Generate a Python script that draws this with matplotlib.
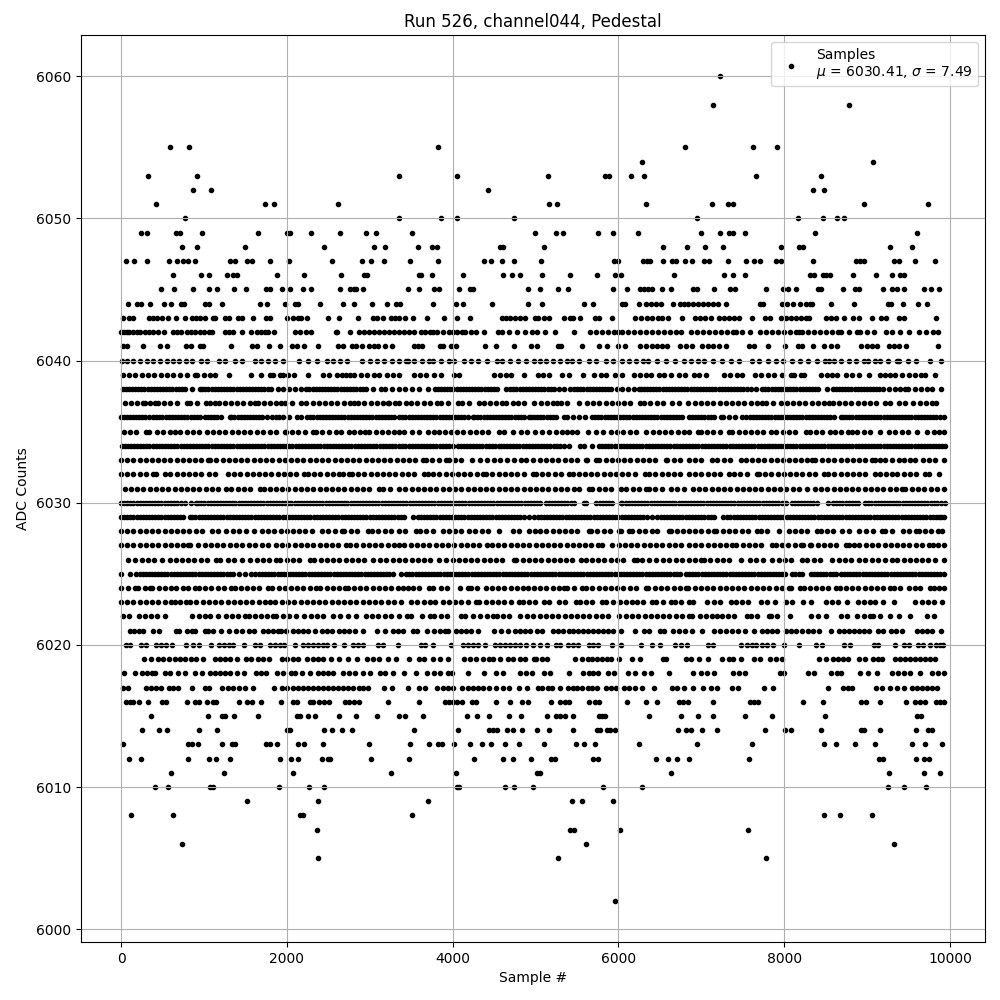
import matplotlib
matplotlib.use('Agg')
import matplotlib.pyplot as plt

# Sample numbers, one list per ADC level
s_6060 = [7229]
s_6058 = [7145, 8783]
s_6055 = [590, 819, 3819, 6807, 7627, 7916]
s_6054 = [6289, 9072]
s_6053 = [325, 916, 3349, 4048, 5145, 5843, 5888, 6157, 6313, 7655, 8438]
s_6052 = [867, 1084, 4422, 8349, 8482]
s_6051 = [422, 1735, 1843, 2614, 5157, 5265, 6337, 7133, 7325, 7386, 8964, 9735]
s_6050 = [771, 3349, 3855, 4048, 4735, 6952, 8169, 8470, 8639, 8723]
s_6049 = [241, 317, 663, 715, 976, 1651, 2000, 2040, 2289, 2639, 2952, 3072, 3506, 4988, 5241, 5337, 5759, 5940,
          6241, 7000, 7229, 7333, 7386, 7530, 8373, 9602]
s_6048 = [735, 916, 1494, 2446, 3048, 3181, 3578, 3747, 3807, 4570, 4610, 5108, 6542, 6831, 7048, 7265, 7964, 8181,
          8229, 9277, 9542]
s_6047 = [60, 157, 317, 578, 675, 747, 807, 892, 1313, 1373, 1518, 1582, 1791, 2024, 2542, 2904, 3016, 3169, 3482,
          3819, 4373, 4458, 4598, 4735, 5072, 5952, 6000, 6301, 6349, 6386, 6542, 6651, 6691, 6807, 6888, 7036, 7092,
          7325, 7542, 7639, 7711, 7904, 7960, 8349, 8867, 8916, 8964, 9325, 9382, 9578, 9819]
s_6046 = [627, 964, 1060, 1277, 1349, 1402, 1880, 2205, 2651, 2928, 2964, 3590, 3614, 3747, 4120, 4602, 4711, 4807,
          5084, 5410, 5747, 5964, 6036, 6675, 7277, 7386, 7530, 8313, 8361, 8470, 8506, 8550, 8831, 9108, 9301, 9398,
          9446]
s_6045 = [482, 639, 867, 1060, 1157, 1361, 1506, 1747, 1791, 1940, 2036, 2193, 2289, 2639, 2759, 2807, 2831, 2916,
          3458, 3590, 3771, 3831, 4072, 4205, 4241, 4904, 5048, 5277, 5386, 5940, 6108, 6265, 6313, 6361, 6410, 6530,
          6639, 6904, 6952, 7157, 7349, 7410, 7783, 7988, 8048, 8145, 8410, 8446, 8711, 8855, 8904, 9193, 9301, 9361,
          9446, 9687, 9771, 9867]
s_6044 = [84, 193, 241, 349, 518, 602, 723, 759, 1012, 1060, 1217, 1675, 1759, 1976, 2096, 2133, 2398, 2675, 2807,
          3024, 3205, 3313, 3361, 3759, 4036, 4120, 4470, 4904, 5084, 5590, 5699, 6048, 6084, 6253, 6337, 6398, 6458,
          6518, 6663, 6747, 6795, 6843, 6904, 6964, 7024, 7084, 7145, 7205, 7301, 7711, 7747, 7976, 8036, 8108, 8193,
          8265, 8313, 8337, 8562, 8843, 9253, 9289, 9434, 9614, 9723]
s_6043 = [24, 96, 145, 337, 386, 434, 494, 566, 663, 771, 855, 904, 952, 1012, 1108, 1133, 1253, 1301, 1410, 1458,
          1590, 1747, 1795, 2000, 2072, 2133, 2169, 2241, 2494, 2627, 2855, 3036, 3084, 3157, 3253, 3301, 3349, 3422,
          3518, 3687, 3892, 4048, 4205, 4590, 4639, 4687, 4747, 4807, 4867, 4988, 5024, 5108, 5157, 5349, 5410, 5458,
          5542, 5723, 5771, 5928, 6205, 6277, 6349, 6410, 6482, 6530, 6602, 6771, 6928, 6988, 7048, 7120, 7217, 7277,
          7337, 7398, 7458, 7614, 7771, 7831, 7964, 8024, 8084, 8145, 8205, 8265, 8301, 8506, 8566, 8627, 8723, 8831,
          8904, 9060, 9169, 9229, 9386, 9446, 9831]
s_6042 = [4, 40, 70, 100, 140, 190, 225, 289, 340, 380, 446, 522, 627, 680, 727, 790, 840, 890, 950, 1005, 1060, 1100,
          1257, 1305, 1349, 1458, 1566, 1639, 1690, 1740, 1771, 1843, 2096, 2160, 2233, 2293, 2590, 2610, 2763, 2867,
          2930, 2990, 3048, 3108, 3169, 3229, 3289, 3349, 3410, 3470, 3530, 3614, 3671, 3723, 3759, 3815, 3880, 3960,
          4000, 4048, 4110, 4145, 4225, 4285, 4382, 4542, 4600, 4675, 4771, 4870, 4960, 5020, 5120, 5229, 5466, 5663,
          5735, 5807, 5880, 5952, 5992, 6048, 6120, 6193, 6265, 6337, 6410, 6482, 6554, 6627, 6699, 6751, 6876, 6952,
          7024, 7097, 7169, 7241, 7313, 7386, 7420, 7490, 7590, 7703, 7775, 7847, 7920, 7992, 8064, 8137, 8177, 8217,
          8289, 8361, 8433, 8506, 8578, 8650, 8690, 8779, 8880, 8920, 9000, 9080, 9229, 9301, 9402, 9510, 9622, 9711,
          9791, 9855]
s_6041 = [24, 72, 265, 466, 554, 783, 843, 952, 988, 1325, 1578, 1639, 1783, 1916, 2060, 2120, 2205, 2373, 2614, 2675,
          2783, 2831, 2904, 2988, 3048, 3096, 3181, 3265, 3530, 3578, 3627, 3843, 3880, 3976, 4036, 4386, 4518, 4735,
          4940, 5012, 5277, 5313, 5566, 5771, 5867, 6000, 6076, 6265, 6337, 6410, 6470, 6530, 6590, 6747, 6819, 6892,
          7012, 7084, 7145, 7217, 7301, 7578, 7639, 7807, 8012, 8169, 8217, 8349, 8482, 8566, 8639, 8928, 9000, 9060,
          9120, 9265, 9325, 9386, 9470, 9855]
s_6040 = [10, 75, 150, 230, 310, 390, 470, 550, 625, 700, 780, 860, 960, 1040, 1180, 1260, 1370, 1460, 1610, 1690,
          1770, 1860, 1950, 2150, 2260, 2360, 2490, 2560, 2640, 2730, 2910, 3000, 3090, 3170, 3270, 3350, 3440, 3460,
          3540, 3630, 3710, 3760, 3860, 3960, 4020, 4140, 4220, 4310, 4420, 4540, 4600, 4690, 4790, 4880, 4980, 5050,
          5130, 5210, 5300, 5380, 5440, 5530, 5640, 5730, 5850, 5940, 6040, 6130, 6210, 6300, 6360, 6470, 6570, 6680,
          6790, 6880, 6964, 7030, 7140, 7250, 7360, 7460, 7610, 7700, 7800, 7900, 7990, 8090, 8190, 8290, 8390, 8490,
          8540, 8600, 8690, 8780, 8870, 8960, 9010, 9090, 9150, 9250, 9360, 9390, 9490, 9590, 9763, 9888]
s_6039 = [24, 100, 170, 250, 320, 400, 480, 550, 630, 710, 800, 888, 915, 1000, 1070, 1128, 1301, 1570, 1690, 1791,
          1839, 1912, 1952, 2020, 2092, 2253, 2442, 2514, 2602, 2667, 2715, 2763, 2815, 2890, 2970, 3056, 3116, 3205,
          3280, 3357, 3538, 3610, 3679, 3779, 3860, 4020, 4080, 4502, 4574, 4643, 4703, 4855, 5024, 5090, 5157, 5325,
          5398, 5578, 5707, 5787, 5855, 5960, 6048, 6189, 6260, 6329, 6398, 6490, 6550, 6630, 6731, 6800, 6912, 6972,
          7052, 7273, 7350, 7430, 7494, 7647, 7720, 7800, 7876, 7976, 8076, 8116, 8197, 8237, 8438, 8518, 8580, 8639,
          8751, 8820, 8900, 9020, 9153, 9220, 9281, 9341, 9420, 9500, 9580, 9650, 9703, 9815]
s_6038 = [24, 95, 170, 245, 320, 395, 470, 545, 620, 695, 770, 850, 947, 980, 1055, 1130, 1205, 1280, 1355, 1430, 1505,
          1580, 1655, 1730, 1805, 1892, 1952, 2030, 2100, 2173, 2233, 2310, 2385, 2460, 2535, 2610, 2685, 2760, 2835,
          2884, 2916, 2956, 3040, 3136, 3189, 3270, 3357, 3430, 3510, 3590, 3699, 3787, 3860, 3935, 4010, 4085, 4160,
          4235, 4310, 4385, 4460, 4535, 4643, 4691, 4770, 4845, 4920, 4995, 5070, 5145, 5220, 5285, 5345, 5418, 5466,
          5540, 5615, 5690, 5765, 5840, 5915, 5988, 6048, 6120, 6190, 6249, 6269, 6345, 6420, 6495, 6570, 6645, 6720,
          6795, 6870, 6945, 7020, 7095, 7170, 7245, 7320, 7395, 7470, 7545, 7594, 7663, 7735, 7810, 7885, 7960, 8035,
          8110, 8185, 8260, 8335, 8410, 8518, 8586, 8660, 8735, 8810, 8885, 8960, 9035, 9110, 9189, 9261, 9340, 9400,
          9462, 9494, 9574, 9650, 9720, 9783, 9892,
          60, 132, 208, 283, 358, 433, 508, 583, 658, 733, 1018, 1093, 1168, 1243, 1318, 1393, 1468, 1543, 1618, 1693,
          1768, 2272, 2348, 2423, 2498, 2573, 2648, 2723, 2798, 3823, 3898, 3973, 4048, 4123, 4198, 4273, 4348, 4423,
          4498, 4732, 4808, 4883, 4958, 5033, 5108, 5183, 5503, 5578, 5653, 5728, 5803, 5878, 6308, 6383, 6458, 6533,
          6608, 6683, 6758, 6833, 6908, 6983, 7058, 7133, 7208, 7283, 7358, 7433, 7508, 7773, 7848, 7923, 7998, 8073,
          8148, 8223, 8298, 8373, 8623, 8698, 8773, 8848, 8923, 8998, 9073, 9148]
s_6037 = [44, 120, 190, 265, 285, 350, 406, 446, 520, 595, 670, 795, 835, 920, 1028, 1068, 1130, 1181, 1249, 1325,
          1400, 1475, 1550, 1610, 1651, 1725, 1800, 1875, 1932, 1972, 2060, 2173, 2233, 2310, 2385, 2460, 2535, 2610,
          2685, 2760, 2815, 2855, 2935, 3010, 3085, 3160, 3217, 3237, 3310, 3357, 3438, 3498, 3575, 3650, 3725, 3811,
          3859, 3950, 4060, 4112, 4200, 4321, 4381, 4450, 4522, 4590, 4643, 4723, 4783, 4855, 4984, 5060, 5135, 5210,
          5265, 5305, 5385, 5526, 5618, 5695, 5770, 5845, 5920, 5995, 6070, 6145, 6257, 6309, 6385, 6460, 6535, 6651,
          6731, 6843, 6920, 6995, 7070, 7145, 7220, 7295, 7370, 7445, 7520, 7595, 7670, 7727, 7775, 7863, 7956, 8030,
          8105, 8180, 8255, 8330, 8405, 8480, 8546, 8590, 8659, 8735, 8810, 8885, 8960, 9035, 9110, 9221, 9281, 9382,
          9454, 9554, 9634, 9710, 9785, 9831]
s_6036 = [0, 70, 145, 220, 295, 386, 426, 500, 575, 650, 725, 800, 875, 950, 1008, 1048, 1125, 1200, 1309, 1329, 1405,
          1480, 1555, 1630, 1705, 1823, 1871, 1950, 2025, 2120, 2173, 2245, 2320, 2395, 2470, 2545, 2620, 2695, 2770,
          2845, 2920, 2995, 3070, 3145, 3220, 3295, 3357, 3430, 3505, 3580, 3655, 3730, 3805, 3880, 3955, 4030, 4105,
          4180, 4241, 4261, 4335, 4410, 4485, 4560, 4635, 4710, 4785, 4860, 4924, 4944, 5020, 5095, 5170, 5245, 5345,
          5385, 5446, 5520, 5595, 5687, 5719, 5795, 5870, 5945, 6020, 6095, 6170, 6245, 6320, 6395, 6470, 6545, 6620,
          6695, 6770, 6851, 6925, 7000, 7075, 7150, 7233, 7261, 7335, 7410, 7494, 7542, 7620, 7695, 7770, 7845, 7920,
          7995, 8070, 8145, 8220, 8295, 8370, 8445, 8520, 8595, 8679, 8711, 8785, 8860, 8935, 9010, 9085, 9160, 9235,
          9310, 9385, 9460, 9535, 9610, 9685, 9760, 9835, 9924,
          35, 108, 183, 258, 340, 463, 538, 613, 688, 763, 838, 913, 1087, 1163, 1367, 1443, 1518, 1593, 1668, 1763,
          1910, 2283, 2358, 2433, 2508, 2583, 2658, 2733, 2808, 2883, 2958, 3033, 3108, 3183, 3258, 3393, 3468, 3543,
          3618, 3693, 3768, 3843, 3918, 3993, 4068, 4143, 4298, 4373, 4448, 4523, 4598, 4673, 4748, 4823, 4983, 5058,
          5133, 5208, 5758, 5833, 5908, 5983, 6058, 6133, 6208, 6283, 6358, 6433, 6508, 6583, 6658, 6733, 6888, 6963,
          7038, 7113, 7583, 7658, 7733, 7808, 7883, 7958, 8033, 8108, 8183, 8258, 8333, 8408, 8483, 8558, 8748, 8823,
          8898, 8973, 9048, 9123, 9198, 9273, 9348, 9423, 9498, 9573, 9648, 9723, 9798, 9880]
s_6035 = [32, 105, 180, 297, 337, 434, 510, 585, 647, 707, 790, 868, 940, 1036, 1110, 1185, 1260, 1335, 1410, 1485,
          1560, 1635, 1711, 1791, 1870, 1972, 1992, 2065, 2140, 2215, 2313, 2353, 2430, 2505, 2594, 2655, 2755, 2815,
          2880, 2948, 2996, 3070, 3145, 3220, 3295, 3357, 3418, 3510, 3598, 3699, 3779, 3831, 3905, 3980, 4055, 4130,
          4205, 4280, 4355, 4430, 4562, 4622, 4723, 4823, 4900, 4990, 5084, 5157, 5245, 5325, 5385, 5438, 5506, 5634,
          5735, 5819, 5908, 5985, 6060, 6135, 6210, 6329, 6418, 6490, 6565, 6640, 6715, 6790, 6851, 6964, 6992, 7070,
          7145, 7220, 7333, 7373, 7450, 7525, 7600, 7675, 7750, 7835, 7904, 7980, 8055, 8130, 8257, 8305, 8385, 8460,
          8558, 8610, 8690, 8765, 8819, 8880, 8960, 9035, 9161, 9261, 9340, 9415, 9490, 9602, 9723, 9803, 9870, 9932]
s_6034 = [8, 80, 155, 230, 305, 380, 455, 530, 605, 680, 755, 830, 905, 980, 1055, 1130, 1205, 1280, 1355, 1430, 1505,
          1580, 1655, 1730, 1805, 1880, 1955, 2030, 2105, 2180, 2255, 2330, 2405, 2480, 2555, 2630, 2705, 2780, 2855,
          2930, 3005, 3080, 3155, 3230, 3305, 3357, 3430, 3505, 3580, 3655, 3730, 3805, 3880, 3952, 3999, 4060, 4135,
          4210, 4285, 4360, 4435, 4510, 4562, 4582, 4655, 4730, 4805, 4880, 4955, 5030, 5105, 5180, 5255, 5345, 5406,
          5534, 5586, 5687, 5767, 5840, 5915, 5990, 6065, 6140, 6215, 6290, 6365, 6440, 6515, 6590, 6665, 6740, 6815,
          6890, 6965, 7040, 7115, 7190, 7265, 7340, 7415, 7490, 7565, 7640, 7715, 7790, 7847, 7888, 7960, 8035, 8110,
          8185, 8260, 8335, 8410, 8485, 8560, 8635, 8710, 8785, 8860, 8935, 9010, 9085, 9160, 9235, 9310, 9385, 9460,
          9535, 9610, 9685, 9760, 9835, 9900, 9944,
          43, 118, 193, 268, 343, 418, 493, 568, 643, 718, 793, 868, 943, 1018, 1093, 1168, 1243, 1318, 1393, 1468,
          1543, 1618, 1693, 1768, 1843, 1918, 1993, 2068, 2143, 2218, 2293, 2368, 2443, 2518, 2593, 2668, 2743, 2818,
          2893, 2968, 3043, 3118, 3193, 3268, 3393, 3468, 3543, 3618, 3693, 3768, 3843, 3918, 4098, 4173, 4248, 4323,
          4398, 4473, 4618, 4693, 4768, 4843, 4918, 4993, 5068, 5143, 5218, 5300, 5803, 5878, 5953, 6028, 6103, 6178,
          6253, 6328, 6403, 6478, 6553, 6628, 6703, 6778, 6853, 6928, 7003, 7078, 7153, 7228, 7303, 7378, 7453, 7528,
          7603, 7678, 7753, 7820, 7923, 7998, 8073, 8148, 8223, 8298, 8373, 8448, 8523, 8598, 8673, 8748, 8823, 8898,
          8973, 9048, 9123, 9198, 9273, 9348, 9423, 9498, 9573, 9648, 9723, 9798, 9868]
s_6033 = [0, 75, 150, 233, 297, 370, 445, 520, 595, 670, 745, 820, 895, 970, 1048, 1076, 1150, 1225, 1300, 1375, 1450,
          1525, 1600, 1675, 1750, 1825, 1900, 1975, 2050, 2125, 2200, 2275, 2350, 2425, 2500, 2575, 2650, 2725, 2800,
          2875, 2950, 3025, 3100, 3175, 3250, 3325, 3400, 3475, 3550, 3639, 3679, 3755, 3830, 3920, 3952, 4030, 4105,
          4229, 4333, 4420, 4502, 4570, 4650, 4740, 4823, 4884, 4972, 5050, 5125, 5200, 5275, 5350, 5425, 5500, 5606,
          5626, 5727, 5767, 5845, 5920, 5995, 6070, 6145, 6220, 6295, 6370, 6445, 6570, 6590, 6665, 6740, 6851, 6925,
          7000, 7124, 7193, 7270, 7345, 7474, 7534, 7610, 7685, 7760, 7835, 7910, 7985, 8056, 8128, 8205, 8280, 8337,
          8377, 8455, 8530, 8605, 8680, 8755, 8830, 8905, 8980, 9060, 9100, 9160, 9221, 9301, 9389, 9442, 9515, 9582,
          9671, 9745, 9820, 9924]
s_6032 = [0, 75, 150, 225, 300, 386, 418, 526, 594, 670, 745, 820, 895, 968, 1060, 1128, 1289, 1365, 1440, 1515, 1590,
          1665, 1740, 1815, 1890, 1965, 2040, 2115, 2213, 2253, 2330, 2405, 2480, 2555, 2635, 2675, 2755, 2783, 2860,
          2935, 3010, 3085, 3160, 3235, 3310, 3385, 3460, 3535, 3659, 3707, 3767, 3840, 3915, 3990, 4065, 4140, 4215,
          4290, 4369, 4402, 4480, 4555, 4630, 4705, 4780, 4855, 4964, 5004, 5080, 5155, 5230, 5305, 5406, 5446, 5520,
          5595, 5670, 5745, 5820, 5895, 5970, 6045, 6120, 6195, 6321, 6369, 6445, 6520, 6595, 6670, 6745, 6851, 6925,
          7000, 7075, 7150, 7225, 7333, 7394, 7470, 7545, 7675, 7695, 7770, 7845, 7920, 7995, 8070, 8145, 8220, 8295,
          8370, 8478, 8530, 8605, 8680, 8755, 8830, 8905, 8980, 9100, 9161, 9230, 9301, 9361, 9440, 9515, 9590, 9703,
          9751, 9863]
s_6031 = [44, 120, 195, 270, 345, 420, 495, 570, 645, 720, 795, 870, 945, 1020, 1095, 1170, 1269, 1329, 1405, 1480,
          1555, 1671, 1719, 1795, 1870, 1945, 2020, 2095, 2170, 2245, 2320, 2395, 2470, 2545, 2620, 2695, 2770, 2845,
          2920, 2995, 3116, 3165, 3240, 3357, 3430, 3505, 3580, 3655, 3730, 3805, 3880, 3955, 4030, 4105, 4180, 4255,
          4330, 4405, 4480, 4555, 4630, 4705, 4780, 4855, 4930, 5005, 5080, 5155, 5230, 5305, 5380, 5466, 5526, 5647,
          5687, 5765, 5840, 5915, 6028, 6096, 6175, 6250, 6329, 6369, 6445, 6520, 6630, 6711, 6791, 6900, 6975, 7050,
          7125, 7200, 7275, 7350, 7425, 7500, 7575, 7650, 7725, 7800, 7875, 7950, 8025, 8100, 8175, 8277, 8369, 8445,
          8520, 8595, 8670, 8745, 8820, 8895, 8970, 9045, 9120, 9195, 9270, 9345, 9422, 9462, 9540, 9615, 9690, 9765,
          9840, 9924]
s_6030 = [0, 75, 150, 225, 300, 375, 450, 525, 600, 675, 727, 767, 840, 908, 932, 1005, 1080, 1155, 1230, 1305, 1380,
          1455, 1530, 1605, 1680, 1755, 1830, 1905, 1980, 2055, 2130, 2205, 2280, 2355, 2430, 2505, 2580, 2655, 2730,
          2805, 2880, 2955, 3030, 3105, 3180, 3255, 3330, 3405, 3480, 3555, 3630, 3705, 3780, 3855, 3930, 4005, 4080,
          4155, 4230, 4305, 4380, 4455, 4530, 4605, 4680, 4755, 4830, 4905, 4980, 5055, 5125, 5157, 5235, 5310, 5385,
          5460, 5586, 5606, 5727, 5775, 5850, 5925, 6028, 6048, 6125, 6200, 6275, 6350, 6425, 6500, 6575, 6650, 6725,
          6800, 6875, 6950, 7025, 7100, 7175, 7250, 7325, 7400, 7475, 7550, 7625, 7700, 7775, 7850, 7925, 8024, 8088,
          8165, 8240, 8315, 8390, 8530, 8586, 8665, 8740, 8815, 8890, 8980, 9012, 9090, 9165, 9240, 9315, 9390, 9465,
          9540, 9615, 9690, 9765, 9840, 9944,
          38, 113, 188, 263, 338, 413, 488, 563, 638, 970, 1043, 1118, 1193, 1268, 1343, 1418, 1493, 1568, 1643, 1718,
          1793, 1868, 1943, 2018, 2093, 2168, 2243, 2318, 2393, 2468, 2543, 2618, 2693, 2768, 2843, 2918, 2993, 3068,
          3143, 3218, 3293, 3368, 3443, 3518, 3593, 3668, 3743, 3818, 3893, 3968, 4043, 4118, 4193, 4268, 4343, 4418,
          4493, 4568, 4643, 4718, 4793, 4868, 4943, 5018, 5195, 5273, 5348, 5423, 5813, 5888, 6088, 6163, 6238, 6313,
          6388, 6463, 6538, 6613, 6688, 6763, 6838, 6913, 6988, 7063, 7138, 7213, 7288, 7363, 7438, 7513, 7588, 7663,
          7738, 7813, 7888, 7975, 8128, 8203, 8278, 8353, 8625, 8703, 8778, 8853, 9050, 9128, 9203, 9278, 9353, 9428,
          9503, 9578, 9653, 9728, 9803, 9890]
s_6029 = [0, 75, 150, 225, 300, 375, 450, 525, 600, 675, 750, 827, 859, 935, 1010, 1085, 1160, 1235, 1310, 1385, 1460,
          1535, 1610, 1685, 1760, 1835, 1910, 1985, 2060, 2135, 2210, 2285, 2360, 2435, 2510, 2585, 2660, 2735, 2810,
          2885, 2960, 3035, 3110, 3185, 3260, 3335, 3410, 3526, 3578, 3655, 3730, 3805, 3880, 3955, 4030, 4105, 4180,
          4255, 4330, 4405, 4480, 4555, 4630, 4705, 4780, 4855, 4984, 5024, 5100, 5175, 5250, 5325, 5400, 5475, 5550,
          5625, 5700, 5775, 5850, 5925, 6000, 6075, 6150, 6225, 6300, 6409, 6470, 6545, 6620, 6695, 6770, 6851, 6925,
          7000, 7075, 7150, 7261, 7313, 7390, 7465, 7540, 7615, 7690, 7765, 7840, 7915, 7990, 8065, 8140, 8215, 8290,
          8365, 8440, 8515, 8590, 8665, 8740, 8815, 8890, 8965, 9040, 9115, 9190, 9265, 9340, 9415, 9490, 9565, 9640,
          9715, 9790, 9865, 9924,
          38, 113, 188, 263, 338, 413, 488, 563, 638, 713, 898, 973, 1048, 1123, 1198, 1273, 1348, 1423, 1498, 1573,
          1648, 1723, 1798, 1873, 1948, 2023, 2098, 2173, 2248, 2323, 2398, 2473, 2548, 2623, 2698, 2773, 2848, 2923,
          2998, 3073, 3148, 3223, 3298, 3373, 3618, 3693, 3768, 3843, 3918, 3993, 4068, 4143, 4218, 4293, 4368, 4443,
          4518, 4593, 4668, 4743, 4818, 4920, 5063, 5138, 5213, 5288, 5363, 5438, 5513, 5588, 5663, 5738, 5813, 5888,
          5963, 6038, 6113, 6188, 6263, 6350, 6508, 6583, 6658, 6733, 6810, 6888, 6963, 7038, 7113, 7350, 7428, 7503,
          7578, 7653, 7728, 7803, 7878, 7953, 8028, 8103, 8178, 8253, 8328, 8403, 8478, 8553, 8628, 8703, 8778, 8853,
          8928, 9003, 9078, 9153, 9228, 9303, 9378, 9453, 9528, 9603, 9678, 9753, 9828, 9895]
s_6028 = [0, 75, 150, 225, 300, 375, 450, 525, 600, 675, 750, 825, 900, 975, 1100, 1168, 1269, 1345, 1420, 1510, 1602,
          1703, 1771, 1850, 1925, 2000, 2075, 2150, 2225, 2300, 2426, 2494, 2580, 2667, 2695, 2775, 2850, 2976, 3028,
          3105, 3180, 3255, 3357, 3430, 3558, 3606, 3679, 3767, 3880, 3955, 4030, 4105, 4201, 4273, 4350, 4425, 4562,
          4723, 4800, 4924, 4992, 5052, 5130, 5205, 5280, 5355, 5430, 5505, 5647, 5667, 5745, 5820, 5895, 6008, 6028,
          6129, 6169, 6245, 6320, 6409, 6470, 6610, 6630, 6705, 6780, 6851, 6925, 7000, 7075, 7153, 7181, 7260, 7335,
          7410, 7485, 7560, 7675, 7723, 7787, 7936, 8056, 8130, 8205, 8280, 8398, 8438, 8515, 8590, 8699, 8787, 8900,
          8992, 9070, 9181, 9221, 9300, 9430, 9502, 9590, 9622, 9700, 9775, 9850, 9904]
s_6027 = [0, 75, 150, 225, 300, 375, 450, 525, 600, 675, 750, 807, 827, 928, 1008, 1085, 1160, 1235, 1310, 1385, 1462,
          1542, 1620, 1695, 1770, 1871, 1944, 2020, 2095, 2170, 2245, 2320, 2395, 2470, 2545, 2620, 2715, 2763, 2840,
          2915, 2990, 3065, 3140, 3215, 3290, 3357, 3418, 3495, 3570, 3645, 3720, 3795, 3870, 3945, 4020, 4095, 4170,
          4245, 4320, 4410, 4474, 4550, 4625, 4700, 4775, 4850, 4925, 5000, 5075, 5150, 5225, 5300, 5375, 5450, 5525,
          5600, 5675, 5750, 5807, 5928, 6005, 6080, 6155, 6230, 6305, 6380, 6455, 6530, 6605, 6680, 6755, 6851, 6925,
          7000, 7075, 7150, 7225, 7293, 7373, 7422, 7500, 7575, 7650, 7725, 7855, 7896, 7975, 8050, 8125, 8197, 8225,
          8305, 8329, 8405, 8480, 8555, 8630, 8751, 8779, 8839, 8908, 8985, 9060, 9135, 9210, 9285, 9360, 9435, 9510,
          9585, 9660, 9743, 9791, 9860, 9924]
s_6026 = [84, 173, 250, 325, 400, 494, 586, 660, 735, 810, 885, 960, 1035, 1149, 1197, 1289, 1365, 1462, 1558, 1635,
          1710, 1785, 1871, 1920, 2000, 2075, 2150, 2281, 2333, 2410, 2485, 2560, 2635, 2710, 2785, 2860, 2935, 3044,
          3124, 3200, 3275, 3357, 3430, 3505, 3580, 3655, 3730, 3839, 3920, 4000, 4075, 4150, 4225, 4300, 4375, 4450,
          4525, 4600, 4735, 4763, 4843, 4916, 4995, 5070, 5145, 5220, 5295, 5370, 5445, 5546, 5614, 5679, 5755, 5830,
          5905, 5980, 6055, 6189, 6229, 6289, 6370, 6450, 6538, 6610, 6690, 6765, 6851, 6920, 6992, 7032, 7110, 7185,
          7260, 7335, 7474, 7586, 7663, 7747, 7855, 7935, 8010, 8085, 8217, 8277, 8355, 8430, 8578, 8659, 8735, 8810,
          8900, 8980, 9060, 9135, 9210, 9301, 9361, 9440, 9515, 9590, 9665, 9740, 9815, 9924]
s_6025 = [0, 104, 185, 260, 335, 410, 485, 560, 635, 710, 785, 860, 935, 1010, 1085, 1160, 1235, 1309, 1349, 1425,
          1500, 1570, 1622, 1700, 1775, 1850, 1925, 2000, 2075, 2150, 2225, 2300, 2375, 2450, 2525, 2600, 2675, 2750,
          2825, 2900, 2975, 3050, 3125, 3200, 3275, 3378, 3438, 3515, 3590, 3665, 3740, 3815, 3890, 3965, 4040, 4115,
          4190, 4265, 4340, 4415, 4490, 4565, 4640, 4715, 4790, 4865, 4940, 5015, 5090, 5165, 5240, 5315, 5390, 5465,
          5540, 5615, 5690, 5765, 5840, 5915, 5990, 6065, 6140, 6215, 6290, 6365, 6440, 6515, 6590, 6665, 6740, 6811,
          6890, 6965, 7040, 7115, 7190, 7265, 7340, 7415, 7490, 7565, 7640, 7715, 7790, 7865, 7940, 8015, 8096, 8136,
          8215, 8317, 8357, 8435, 8510, 8585, 8679, 8719, 8795, 8870, 8945, 9020, 9095, 9170, 9245, 9320, 9395, 9470,
          9545, 9620, 9695, 9770, 9845, 9924,
          223, 298, 373, 448, 523, 598, 673, 748, 823, 898, 973, 1048, 1123, 1198, 1273, 1660, 1738, 1813, 1888, 1963,
          2038, 2113, 2188, 2263, 2338, 2413, 2488, 2563, 2638, 2713, 2788, 2863, 2938, 3013, 3088, 3163, 3238, 3478,
          3553, 3628, 3703, 3778, 3853, 3928, 4003, 4078, 4153, 4228, 4303, 4378, 4453, 4528, 4603, 4678, 4753, 4828,
          4903, 4978, 5053, 5128, 5203, 5278, 5353, 5428, 5503, 5578, 5653, 5728, 5803, 5878, 5953, 6028, 6103, 6178,
          6253, 6328, 6403, 6478, 6553, 6628, 6703, 6850, 6928, 7003, 7078, 7153, 7228, 7303, 7378, 7453, 7528, 7603,
          7678, 7753, 7828, 7903, 7978, 8175, 8398, 8473, 8548, 8630, 8758, 8833, 8908, 8983, 9058, 9133, 9208, 9283,
          9358, 9433, 9508, 9583, 9658, 9733, 9808, 9885]
s_6024 = [0, 85, 165, 205, 285, 345, 378, 455, 530, 606, 659, 747, 807, 888, 940, 1015, 1090, 1165, 1240, 1329, 1369,
          1445, 1520, 1595, 1670, 1771, 1823, 1900, 1975, 2050, 2125, 2200, 2275, 2353, 2402, 2480, 2555, 2630, 2707,
          2735, 2810, 2885, 2960, 3035, 3110, 3185, 3260, 3335, 3406, 3458, 3526, 3600, 3711, 3767, 3860, 3928, 4088,
          4181, 4221, 4300, 4402, 4474, 4550, 4625, 4700, 4775, 4843, 4904, 4980, 5055, 5130, 5205, 5280, 5345, 5385,
          5470, 5566, 5606, 5685, 5760, 5835, 5910, 5985, 6060, 6135, 6210, 6329, 6361, 6440, 6515, 6590, 6665, 6740,
          6811, 6843, 6920, 6995, 7070, 7145, 7220, 7295, 7370, 7445, 7520, 7595, 7670, 7745, 7820, 7895, 7970, 8056,
          8076, 8185, 8237, 8310, 8385, 8450, 8530, 8619, 8667, 8745, 8820, 8895, 8970, 9045, 9120, 9195, 9281, 9321,
          9400, 9502, 9574, 9642, 9763, 9803, 9870, 9924]
s_6023 = [0, 75, 150, 225, 300, 375, 450, 525, 600, 647, 707, 779, 835, 910, 985, 1060, 1135, 1210, 1285, 1360, 1435,
          1510, 1585, 1660, 1735, 1799, 1863, 1940, 2015, 2090, 2165, 2240, 2315, 2390, 2465, 2540, 2615, 2690, 2765,
          2840, 2915, 2990, 3065, 3140, 3215, 3290, 3378, 3498, 3575, 3650, 3727, 3791, 3880, 3955, 4030, 4105, 4180,
          4281, 4321, 4400, 4475, 4550, 4625, 4700, 4803, 4843, 4920, 4995, 5104, 5157, 5285, 5360, 5486, 5534, 5610,
          5685, 5807, 5855, 5936, 6015, 6090, 6165, 6229, 6297, 6409, 6458, 6535, 6630, 6679, 6755, 6851, 6900, 7072,
          7150, 7225, 7353, 7414, 7490, 7565, 7715, 7795, 7888, 8016, 8095, 8225, 8325, 8498, 8575, 8650, 8759, 8888,
          8965, 9040, 9100, 9189, 9321, 9582, 9660, 9735, 9810, 9904]
s_6022 = [24, 100, 217, 285, 360, 435, 526, 859, 935, 1010, 1076, 1168, 1261, 1340, 1415, 1490, 1538, 1615, 1690, 1765,
          1831, 1871, 1950, 2025, 2113, 2213, 2290, 2365, 2440, 2554, 2643, 2735, 2835, 2956, 3028, 3105, 3180, 3255,
          3357, 3446, 3498, 3627, 3727, 3779, 3855, 3930, 4100, 4153, 4249, 4333, 4410, 4482, 4530, 4610, 4685, 4811,
          4896, 4975, 5050, 5125, 5200, 5275, 5350, 5425, 5500, 5575, 5650, 5725, 5800, 5875, 6008, 6088, 6165, 6240,
          6315, 6390, 6465, 6540, 6615, 6690, 6765, 6851, 6892, 6980, 7060, 7133, 7193, 7245, 7325, 7400, 7554, 7594,
          7675, 7815, 7835, 7915, 8068, 8325, 8410, 8498, 8679, 8760, 8880, 8960, 9040, 9072, 9150, 9281, 9390, 9522,
          9723, 9803]
s_6021 = [108, 157, 217, 265, 386, 458, 663, 699, 795, 855, 892, 1012, 1048, 1108, 1205, 1301, 1386, 1458, 1542, 1602,
          1711, 1771, 1831, 1892, 1928, 1988, 2072, 2133, 2193, 2253, 2337, 2422, 2482, 2542, 2627, 2687, 2747, 2819,
          2916, 3084, 3181, 3277, 3337, 3398, 3518, 3566, 3687, 3771, 3843, 3904, 3940, 4036, 4096, 4157, 4217, 4301,
          4494, 4578, 4663, 4747, 4807, 4867, 4928, 5012, 5084, 5205, 5277, 5337, 5398, 5458, 5518, 5578, 5627, 5699,
          5759, 5819, 5880, 5940, 6036, 6205, 6313, 6373, 6506, 6554, 6663, 6735, 6807, 6892, 7012, 7157, 7229, 7301,
          7373, 7446, 7530, 7639, 7735, 7795, 7855, 7916, 8024, 8084, 8145, 8217, 8289, 8349, 8422, 8566, 8663, 8723,
          8783, 8843, 8904, 8964, 9024, 9133, 9193, 9289, 9349, 9422, 9602, 9663, 9723, 9783, 9892]
s_6020 = [60, 108, 241, 301, 422, 482, 542, 614, 783, 867, 940, 1084, 1181, 1241, 1301, 1349, 1482, 1614, 1675, 1795,
          1855, 1916, 1964, 2096, 2193, 2253, 2313, 2373, 2434, 2482, 2566, 2687, 2795, 2855, 2916, 3096, 3157, 3337,
          3614, 3663, 3759, 3976, 4120, 4181, 4241, 4301, 4386, 4506, 4566, 4627, 4687, 4747, 4807, 4880, 4964, 5048,
          5133, 5241, 5301, 5386, 5446, 5518, 5651, 5699, 5759, 5928, 6036, 6277, 6410, 6506, 6687, 6759, 6831, 7084,
          7145, 7482, 7554, 7614, 7663, 7735, 7795, 7867, 8000, 8181, 8386, 8458, 8723, 8795, 9084, 9133, 9337, 9446,
          9506, 9614, 9675, 9759, 9831, 9880, 9916]
s_6019 = [277, 361, 446, 506, 578, 647, 707, 767, 839, 908, 988, 1133, 1193, 1253, 1313, 1398, 1506, 1566, 1651, 1711,
          1783, 1940, 2000, 2072, 2133, 2241, 2313, 2373, 2434, 2530, 2627, 2735, 2843, 2964, 3036, 3108, 3217, 3321,
          3470, 3590, 3651, 3759, 3843, 3940, 4133, 4205, 4277, 4361, 4434, 4482, 4566, 4663, 4723, 4807, 4867, 4976,
          5000, 5084, 5133, 5482, 5566, 5627, 5687, 5747, 5807, 5867, 5916, 6012, 6169, 6265, 6542, 6578, 6819, 6880,
          6976, 7084, 7253, 7337, 7386, 7482, 7639, 7711, 7831, 7904, 7976, 8422, 8506, 8590, 8651, 8711, 8771, 8904,
          8976, 9072, 9133, 9181, 9337, 9398, 9458, 9518, 9578, 9639, 9699, 9759, 9819]
s_6018 = [36, 169, 253, 313, 373, 410, 530, 594, 687, 767, 892, 976, 1072, 1133, 1193, 1253, 1313, 1398, 1482, 1627,
          1687, 1747, 1880, 1952, 2048, 2104, 2181, 2277, 2373, 2434, 2494, 2554, 2675, 2747, 2819, 2916, 3000, 3120,
          3181, 3277, 3410, 3554, 3687, 3771, 3843, 3940, 3988, 4181, 4373, 4518, 4602, 4807, 4880, 4952, 5108, 5169,
          5398, 5578, 5639, 5699, 5759, 5880, 5952, 6120, 6205, 6313, 6398, 6614, 6904, 7000, 7072, 7157, 7386, 7458,
          7530, 7952, 8000, 8289, 8361, 8566, 8639, 8687, 8916, 9012, 9120, 9301, 9373, 9446, 9518, 9639, 9783, 9855,
          9928]
s_6017 = [24, 84, 301, 361, 422, 482, 578, 627, 687, 855, 1016, 1060, 1217, 1289, 1349, 1422, 1494, 1590, 1843, 1944,
          2000, 2072, 2133, 2193, 2253, 2313, 2373, 2434, 2494, 2554, 2614, 2675, 2735, 2795, 2867, 2916, 2976, 3169,
          3265, 3458, 3590, 3663, 3807, 3880, 3940, 4000, 4108, 4181, 4241, 4301, 4361, 4434, 4518, 4602, 4675, 4795,
          4892, 5024, 5084, 5145, 5197, 5301, 5386, 5446, 5506, 5566, 5627, 5687, 5747, 5855, 5916, 5976, 6068, 6129,
          6201, 6289, 6434, 6651, 6711, 6791, 6904, 7024, 7120, 7193, 7373, 7446, 7759, 7867, 8530, 8711, 8771, 8819,
          9108, 9181, 9277, 9361, 9446, 9542, 9602, 9663, 9723, 9783, 9843]
s_6016 = [60, 104, 145, 217, 325, 494, 538, 795, 892, 940, 1036, 1108, 1145, 1422, 1518, 1578, 1687, 1928, 2072, 2120,
          2277, 2313, 2394, 2454, 2514, 2699, 2747, 2807, 2867, 3217, 3590, 3904, 3952, 4000, 4048, 4108, 4233, 4281,
          4518, 4687, 4831, 4904, 5181, 5301, 5361, 5406, 5639, 5723, 5771, 6108, 6337, 6470, 6735, 6783, 6843, 7145,
          7590, 7639, 7687, 8229, 8470, 8928, 8988, 9157, 9466, 9578, 9639, 9699, 9831, 9880, 9928]
s_6015 = [361, 1048, 1217, 1253, 1361, 1651, 2120, 2157, 2253, 2337, 2627, 2831, 3084, 3349, 3422, 3639, 4169, 4289,
          4434, 4675, 4819, 5133, 5241, 5301, 5361, 5446, 5771, 5807, 5843, 6373, 6759, 6964, 7145, 7530, 7855, 8494,
          9602, 9651]
s_6014 = [253, 458, 554, 940, 1157, 2000, 2036, 2446, 2542, 2663, 2783, 3530, 4060, 4434, 4482, 4530, 4651, 4723, 4831,
          5012, 5157, 5446, 5747, 5783, 5867, 5904, 5964, 6723, 6819, 6880, 7012, 7193, 7771, 8012, 8084, 8446, 8928,
          8964, 9157, 9590, 9735, 9783]
s_6013 = [24, 807, 855, 928, 1217, 1337, 1373, 1747, 1795, 1880, 2133, 2205, 2434, 2988, 3482, 3711, 3819, 3867, 4012,
          4213, 4349, 4458, 4627, 4795, 5108, 5494, 5590, 5723, 6253, 6952, 7614, 8482, 8627, 8855, 9096, 9542, 9699,
          9904]
s_6012 = [96, 241, 807, 1060, 1145, 1313, 1916, 2048, 2133, 2422, 2494, 2518, 3012, 3470, 4253, 4602, 4723, 4940, 5181,
          5229, 5699, 5759, 6458, 6602, 6711, 6855, 7578, 9145, 9193, 9590, 9687, 9747]
s_6011 = [602, 1241, 2072, 3253, 4036, 5012, 5048, 6639, 9265, 9687, 9880]
s_6010 = [410, 566, 1072, 1108, 1904, 2265, 2446, 4048, 4072, 4627, 4735, 4964, 5819, 6289, 9253, 9446, 9711]
s_6009 = [1518, 2373, 3699, 5434, 5566, 5940]
s_6008 = [120, 627, 2157, 2193, 3506, 8482, 8675, 9060]
s_6007 = [2361, 5410, 5470, 6024, 7566]
s_6006 = [735, 5614, 9325]
s_6005 = [2373, 5277, 7783]
s_6002 = [5964]

levels = [6060, 6058, 6055, 6054, 6053, 6052, 6051, 6050, 6049, 6048, 6047, 6046, 6045, 6044, 6043, 6042, 6041, 6040,
          6039, 6038, 6037, 6036, 6035, 6034, 6033, 6032, 6031, 6030, 6029, 6028, 6027, 6026, 6025, 6024, 6023, 6022,
          6021, 6020, 6019, 6018, 6017, 6016, 6015, 6014, 6013, 6012, 6011, 6010, 6009, 6008, 6007, 6006, 6005, 6002]
rows = [s_6060, s_6058, s_6055, s_6054, s_6053, s_6052, s_6051, s_6050, s_6049, s_6048, s_6047, s_6046, s_6045, s_6044,
        s_6043, s_6042, s_6041, s_6040, s_6039, s_6038, s_6037, s_6036, s_6035, s_6034, s_6033, s_6032, s_6031, s_6030,
        s_6029, s_6028, s_6027, s_6026, s_6025, s_6024, s_6023, s_6022, s_6021, s_6020, s_6019, s_6018, s_6017, s_6016,
        s_6015, s_6014, s_6013, s_6012, s_6011, s_6010, s_6009, s_6008, s_6007, s_6006, s_6005, s_6002]

mean_adc = 6030.41
sigma_adc = 7.49

x = []
y = []
for level, row in zip(levels, rows):
    x += row
    y += [level] * len(row)

fig, ax = plt.subplots(figsize=(10, 10))
ax.scatter(x, y, marker='.', color='black',
           label=f'Samples\n$\\mu$ = {mean_adc:.2f}, $\\sigma$ = {sigma_adc:.2f}')
ax.set_title('Run 526, channel044, Pedestal')
ax.set_xlabel('Sample #')
ax.set_ylabel('ADC Counts')
ax.set_xlim(-483, 10422)
ax.grid(True)
ax.legend(loc='upper right')
fig.subplots_adjust(left=0.081, right=0.985, top=0.965, bottom=0.058)
fig.savefig('out.png', dpi=100)
